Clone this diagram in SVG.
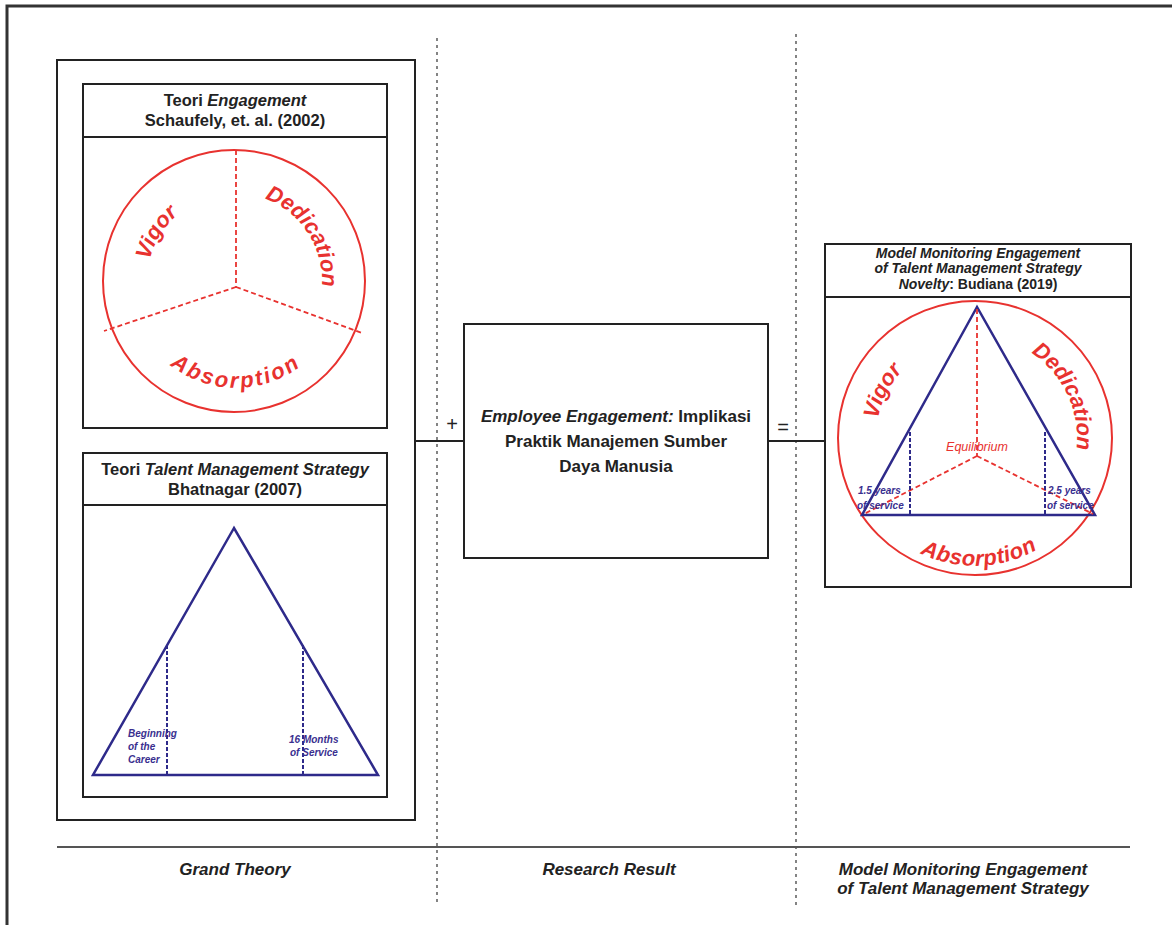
<svg xmlns="http://www.w3.org/2000/svg" width="1172" height="925" viewBox="0 0 1172 925">
<style>
.box{fill:#fff;stroke:#222;stroke-width:2}
.hdr{font-family:"Liberation Sans",Arial,sans-serif;font-weight:bold;font-size:16.5px;fill:#222;text-anchor:middle}
.it{font-style:italic}
.red{fill:none;stroke:#e8322f;stroke-width:2}
.redd{fill:none;stroke:#e8322f;stroke-width:1.8;stroke-dasharray:5 3}
.blue{fill:none;stroke:#2e2a8a;stroke-width:2.5}
.blued{fill:none;stroke:#2e2a8a;stroke-width:2;stroke-dasharray:4 2}
.rt{font-family:"Liberation Sans",Arial,sans-serif;font-weight:bold;font-style:italic;font-size:22px;fill:#e8322f}
.bt{font-family:"Liberation Sans",Arial,sans-serif;font-weight:bold;font-style:italic;font-size:10px;fill:#3a2f8f}
.sep{fill:none;stroke:#333;stroke-width:1.2;stroke-dasharray:3 4}
.lbl{font-family:"Liberation Sans",Arial,sans-serif;font-weight:bold;font-style:italic;font-size:17px;fill:#222;text-anchor:middle}
.conn{fill:none;stroke:#222;stroke-width:2}
</style>
<defs>
<path id="lv" d="M157.2,321.8 A87,87 0 0 1 237.0,194.1"/>
<path id="ld" d="M229.4,193.1 A88,88 0 0 1 312.4,321.0"/>
<path id="la" d="M135.5,317.6 A107,107 0 0 0 336.5,317.6"/>
<path id="rv" d="M892.0,491.9 A99,99 0 0 1 969.8,339.1"/>
<path id="rd" d="M983.9,336.4 A102,102 0 0 1 1058.6,496.5"/>
<path id="ra" d="M858.2,485.2 A125,125 0 0 0 1094.8,476.9"/>
</defs>
<rect width="1172" height="925" fill="#fff"/>
<path d="M7,925 V6 H1172" fill="none" stroke="#333" stroke-width="3"/>
<g id="separators">
<line class="sep" x1="437" y1="38" x2="437" y2="905"/>
<line class="sep" x1="796" y1="34" x2="796" y2="905"/>
<line x1="57" y1="847" x2="1130" y2="847" stroke="#555" stroke-width="2"/>
</g>
<g id="grand-theory">
<rect class="box" x="57" y="60" width="358" height="760"/>
</g>
<g id="engagement-theory">
<rect class="box" x="83" y="84" width="304" height="344"/>
<line x1="83" y1="137" x2="387" y2="137" stroke="#222" stroke-width="2"/>
<text class="hdr" x="235" y="106">Teori <tspan class="it">Engagement</tspan></text>
<text class="hdr" x="235" y="126">Schaufely, et. al. (2002)</text>
<circle class="red" cx="234" cy="281" r="131"/>
<path class="redd" d="M236,150 V287 M236,287 L104,331 M236,287 L362,333"/>
<text class="rt"><textPath href="#lv" startOffset="50%" text-anchor="middle">Vigor</textPath></text>
<text class="rt"><textPath href="#ld" startOffset="50%" text-anchor="middle">Dedication</textPath></text>
<text class="rt" letter-spacing="2.5"><textPath href="#la" startOffset="50%" text-anchor="middle">Absorption</textPath></text>
</g>
<g id="talent-theory">
<rect class="box" x="83" y="453" width="304" height="344"/>
<line x1="83" y1="505" x2="387" y2="505" stroke="#222" stroke-width="2"/>
<text class="hdr" x="235" y="475">Teori <tspan class="it">Talent Management Strategy</tspan></text>
<text class="hdr" x="235" y="495">Bhatnagar (2007)</text>
<path class="blue" d="M234,528 L93,775 H378 Z"/>
<path class="blued" d="M167,645 V775 M303,645 V775"/>
<text class="bt" x="128" y="737">Beginning</text>
<text class="bt" x="128" y="750">of the</text>
<text class="bt" x="128" y="763">Career</text>
<text class="bt" x="289" y="743">16 Months</text>
<text class="bt" x="290" y="756">of Service</text>
</g>
<g id="research-result">
<rect class="box" x="464" y="324" width="304" height="234"/>
<text class="hdr" x="616" y="422" style="font-size:17px"><tspan class="it">Employee Engagement:</tspan> Implikasi</text>
<text class="hdr" x="616" y="447" style="font-size:17px">Praktik Manajemen Sumber</text>
<text class="hdr" x="616" y="472" style="font-size:17px">Daya Manusia</text>
</g>
<g id="model">
<rect class="box" x="825" y="244" width="306" height="343"/>
<line x1="825" y1="297" x2="1131" y2="297" stroke="#222" stroke-width="2"/>
<text class="hdr it" x="978" y="258" style="font-size:14px">Model Monitoring Engagement</text>
<text class="hdr it" x="978" y="273" style="font-size:14px">of Talent Management Strategy</text>
<text class="hdr" x="978" y="289" style="font-size:14px"><tspan class="it">Novelty</tspan>: Budiana (2019)</text>
<circle class="red" cx="975" cy="438" r="137"/>
<path class="blue" d="M977,307 L862,515 H1095 Z"/>
<path class="redd" d="M977,309 V456 M977,456 L864,514 M977,456 L1093,514"/>
<path class="blued" d="M910,432 V515 M1045,432 V515"/>
<text class="rt" x="977" y="451" style="font-size:12.5px;font-weight:normal" text-anchor="middle">Equilibrium</text>
<text class="bt" x="858" y="494">1.5 years</text>
<text class="bt" x="857" y="509">of service</text>
<text class="bt" x="1048" y="494">2.5 years</text>
<text class="bt" x="1047" y="509">of service</text>
<text class="rt"><textPath href="#rv" startOffset="50%" text-anchor="middle">Vigor</textPath></text>
<text class="rt"><textPath href="#rd" startOffset="50%" text-anchor="middle">Dedication</textPath></text>
<text class="rt" letter-spacing="0.5"><textPath href="#ra" startOffset="50%" text-anchor="middle">Absorption</textPath></text>
</g>
<g id="connectors">
<line class="conn" x1="415" y1="441" x2="464" y2="441"/>
<line class="conn" x1="768" y1="441" x2="825" y2="441"/>
<text class="hdr" x="452" y="431" style="font-size:20px;font-weight:normal">+</text>
<text class="hdr" x="783" y="434" style="font-size:20px;font-weight:normal">=</text>
</g>
<g id="labels">
<text class="lbl" x="235" y="875">Grand Theory</text>
<text class="lbl" x="609" y="875">Research Result</text>
<text class="lbl" x="963" y="875">Model Monitoring Engagement</text>
<text class="lbl" x="963" y="894">of Talent Management Strategy</text>
</g>
</svg>
